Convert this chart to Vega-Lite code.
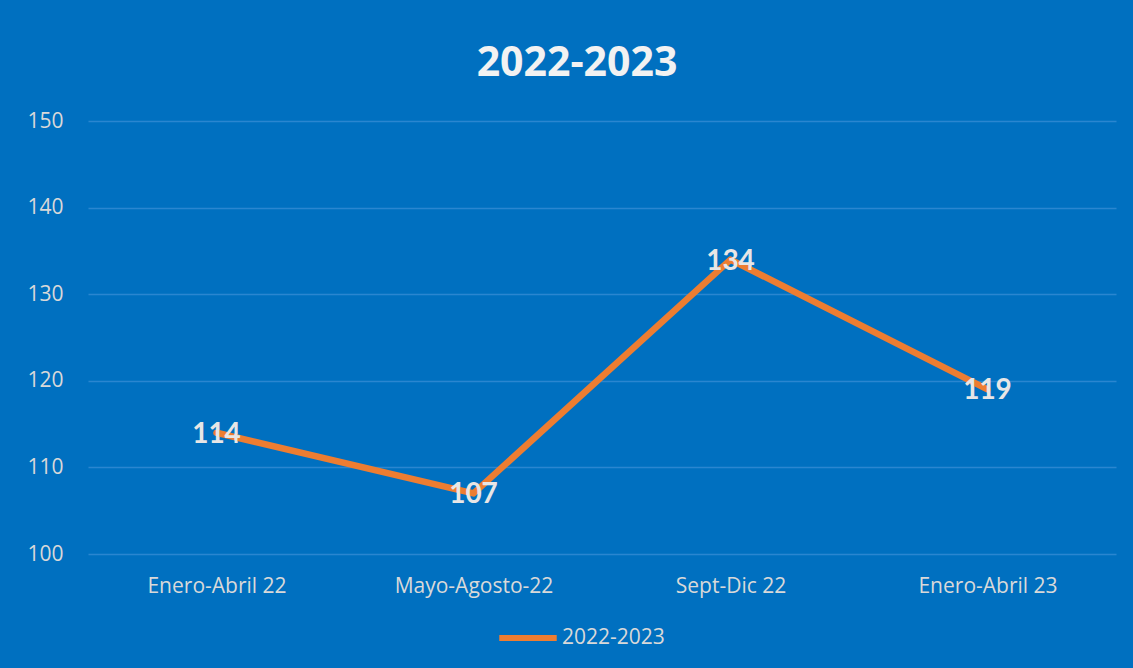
{
  "$schema": "https://vega.github.io/schema/vega-lite/v6.json",
  "width": 1028,
  "height": 433,
  "autosize": {"type": "none"},
  "padding": {"left": 88, "top": 121, "right": 17, "bottom": 114},
  "background": "#0070C0",
  "config": {"view": {"stroke": null}},
  "title": {
    "text": "2022-2023",
    "font": "Open Sans",
    "fontSize": 41,
    "fontWeight": "bold",
    "color": "#F2F2F2",
    "anchor": "middle",
    "dx": -25,
    "offset": 25
  },
  "data": {
    "values": [
      {"periodo": "Enero-Abril 22", "valor": 114, "serie": "2022-2023"},
      {"periodo": "Mayo-Agosto-22", "valor": 107, "serie": "2022-2023"},
      {"periodo": "Sept-Dic 22", "valor": 134, "serie": "2022-2023"},
      {"periodo": "Enero-Abril 23", "valor": 119, "serie": "2022-2023"}
    ]
  },
  "encoding": {
    "x": {
      "field": "periodo",
      "type": "ordinal",
      "sort": null,
      "scale": {"type": "point", "padding": 0.5},
      "axis": {
        "title": null,
        "labelAngle": 0,
        "labelFont": "Open Sans",
        "labelFontSize": 21,
        "labelColor": "#D9D9D9",
        "labelPadding": 21,
        "ticks": false,
        "domain": false,
        "grid": false
      }
    },
    "y": {
      "field": "valor",
      "type": "quantitative",
      "scale": {"domain": [100, 150], "nice": false, "zero": false},
      "axis": {
        "title": null,
        "values": [100, 110, 120, 130, 140, 150],
        "labelFont": "Open Sans",
        "labelFontSize": 21,
        "labelColor": "#D9D9D9",
        "labelPadding": 25,
        "ticks": false,
        "domain": false,
        "gridColor": "#2A86D0",
        "gridWidth": 1.5
      }
    }
  },
  "layer": [
    {
      "mark": {"type": "line", "strokeWidth": 6.5, "strokeCap": "round", "strokeJoin": "round"},
      "encoding": {
        "color": {
          "field": "serie",
          "type": "nominal",
          "scale": {"range": ["#ED7D31"]},
          "legend": {
            "title": null,
            "orient": "none",
            "legendX": 408,
            "legendY": 485,
            "direction": "horizontal",
            "symbolType": "stroke",
            "symbolSize": 3300,
            "symbolStrokeWidth": 6,
            "labelFont": "Open Sans",
            "labelFontSize": 21,
            "labelColor": "#D9D9D9",
            "labelOffset": 2
          }
        }
      }
    },
    {
      "mark": {"type": "text", "font": "Lato", "fontSize": 28, "fontWeight": "bold", "color": "#E7E6E6", "baseline": "middle", "align": "center", "dy": 2},
      "encoding": {"text": {"field": "valor", "type": "quantitative"}}
    }
  ]
}
